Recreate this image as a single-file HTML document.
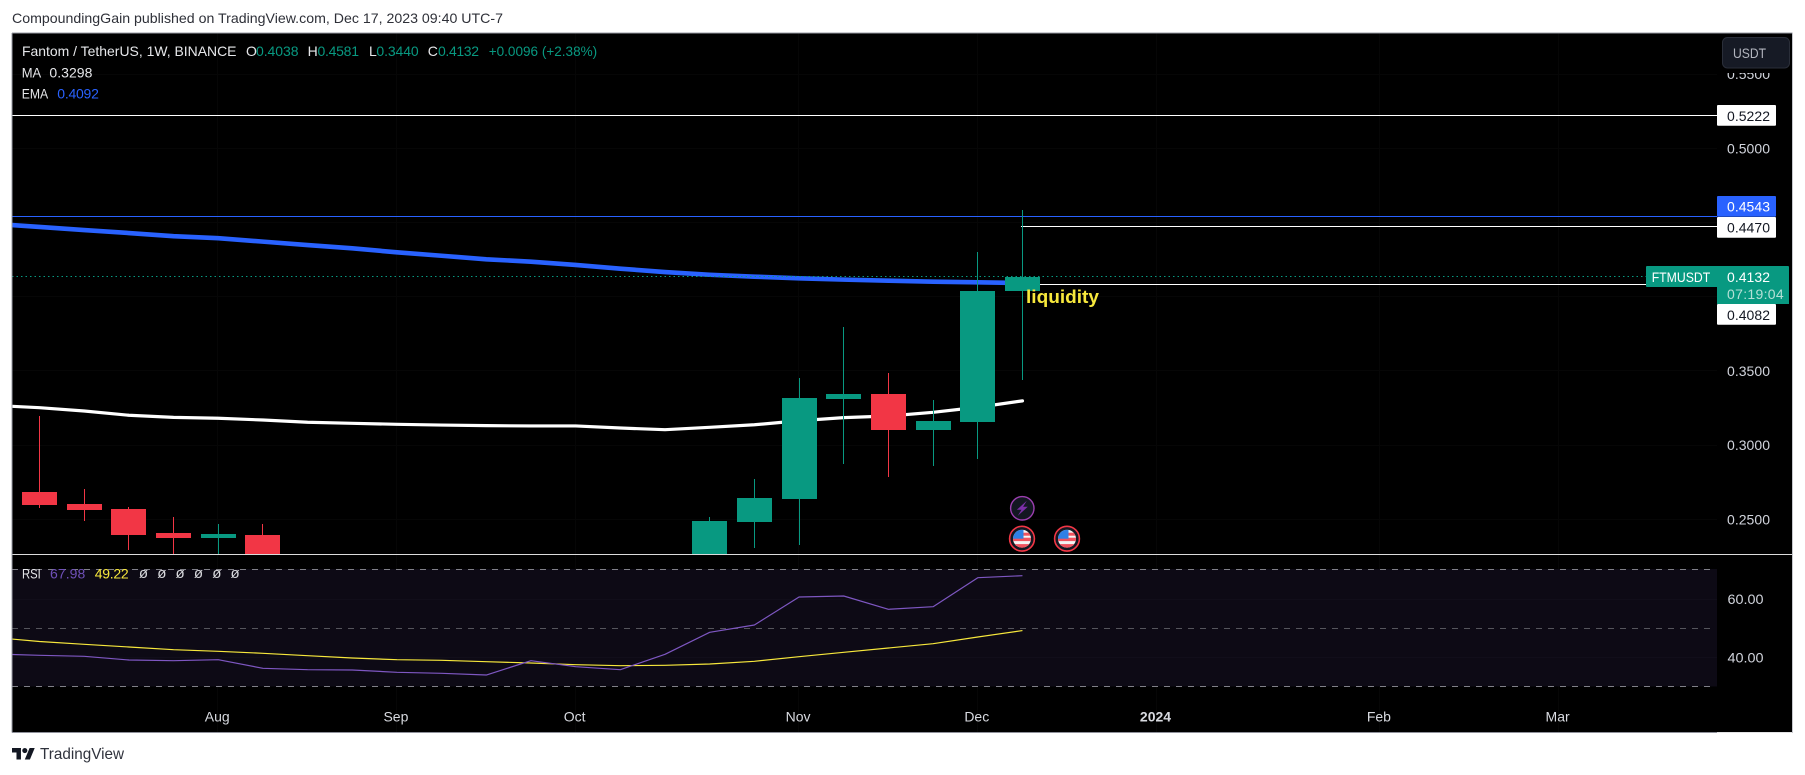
<!DOCTYPE html>
<html lang="en">
<head>
<meta charset="utf-8">
<title>FTMUSDT weekly chart</title>
<style>
  html, body { margin: 0; padding: 0; background: #ffffff; }
  body { width: 1805px; height: 775px; overflow: hidden; }
  svg { display: block; }
  text { font-family: "Liberation Sans", sans-serif; }
</style>
</head>
<body>
<svg id="chart" xmlns="http://www.w3.org/2000/svg" width="1805" height="775" viewBox="0 0 1805 775">
  <defs>
    <clipPath id="clip-main"><rect x="12" y="33" width="1705" height="521"/></clipPath>
    <clipPath id="clip-rsi"><rect x="12" y="555" width="1705" height="177"/></clipPath>
    <clipPath id="clip-flag-a"><circle cx="0" cy="0" r="9"/></clipPath>
  </defs>

  <text x="12" y="18" font-size="14" fill="#2e3038" dominant-baseline="central" textLength="491" lengthAdjust="spacingAndGlyphs">CompoundingGain published on TradingView.com, Dec 17, 2023 09:40 UTC-7</text>

  <rect x="12" y="33" width="1780" height="699" fill="#000000"/>

  <g id="main-grid"></g>
  <rect x="12" y="569" width="1705" height="117.5" fill="#0d0a15"/>
  <g id="rsi-grid"></g>

  <g clip-path="url(#clip-main)">
    <g id="hlines"></g>
    <path id="ma-line" fill="none" stroke="#ffffff" stroke-width="3.2" stroke-linejoin="round" stroke-linecap="round"/>
    <path id="ema-line" fill="none" stroke="#2962ff" stroke-width="4.6" stroke-linejoin="round" stroke-linecap="butt"/>
    <line id="price-line" x1="12" x2="1646" stroke="#089981" stroke-width="1" stroke-dasharray="1.5 3"/>
    <g id="candles"></g>
  </g>

  <text x="1026" y="297" font-size="18" font-weight="700" fill="#f7e83c" dominant-baseline="central" textLength="73" lengthAdjust="spacingAndGlyphs">liquidity</text>

  <g transform="translate(1022.3 508.3)">
    <circle r="11.7" fill="#131722" stroke="#9c3fb0" stroke-width="1.4"/>
    <path d="M4.5 -7.5 L-5.5 1.5 L-0.8 1.5 L-4.5 7.5 L5.5 -1.5 L0.8 -1.5 Z" fill="#7b2fa8"/>
  </g>
  <g transform="translate(1022 538.7)">
    <circle r="12.4" fill="#131722" stroke="#f23645" stroke-width="1.6"/>
    <g clip-path="url(#clip-flag-a)">
      <rect x="-9" y="-9" width="18" height="18" fill="#f4f4f4"/>
      <rect x="-9" y="-1" width="18" height="3.4" fill="#f0535f"/>
      <rect x="-9" y="5.4" width="18" height="4" fill="#f0535f"/>
      <rect x="1" y="-6" width="8" height="3" fill="#f0535f"/>
      <rect x="-9" y="-9" width="10.5" height="9" fill="#2f80e6"/>
    </g>
  </g>
  <g transform="translate(1067 538.7)">
    <circle r="12.4" fill="#131722" stroke="#f23645" stroke-width="1.6"/>
    <g clip-path="url(#clip-flag-a)">
      <rect x="-9" y="-9" width="18" height="18" fill="#f4f4f4"/>
      <rect x="-9" y="-1" width="18" height="3.4" fill="#f0535f"/>
      <rect x="-9" y="5.4" width="18" height="4" fill="#f0535f"/>
      <rect x="1" y="-6" width="8" height="3" fill="#f0535f"/>
      <rect x="-9" y="-9" width="10.5" height="9" fill="#2f80e6"/>
    </g>
  </g>

  <g clip-path="url(#clip-rsi)">
    <g id="rsi-levels"></g>
    <path id="rsi-ma-line" fill="none" stroke="#f7e83c" stroke-width="1.2" stroke-linejoin="round"/>
    <path id="rsi-line" fill="none" stroke="#7e57c2" stroke-width="1.2" stroke-linejoin="round"/>
  </g>

  <rect x="12" y="554" width="1780" height="1" fill="#dcdcdc"/>

  <g id="price-axis"></g>
  <g id="rsi-axis"></g>
  <g id="time-axis"></g>
  <g id="price-tags"></g>
  <g id="last-tag"></g>

  <rect x="1718" y="34" width="73" height="39" fill="#000000"/>
  <g>
    <rect x="1722.5" y="37.5" width="67" height="30.5" rx="5" fill="#161a25" stroke="#2a2e39" stroke-width="1"/>
    <text x="1733" y="53" font-size="14" fill="#b2b5be" dominant-baseline="central" textLength="33" lengthAdjust="spacingAndGlyphs">USDT</text>
  </g>

  <g font-size="14" dominant-baseline="central">
    <text x="22" y="51" fill="#e6e7ea" dominant-baseline="central" textLength="214.5" lengthAdjust="spacingAndGlyphs">Fantom / TetherUS, 1W, BINANCE</text>
    <text x="246" y="51" fill="#e6e7ea" dominant-baseline="central">O</text>
    <text x="256" y="51" fill="#089981" dominant-baseline="central" textLength="42.5">0.4038</text>
    <text x="307.6" y="51" fill="#e6e7ea" dominant-baseline="central">H</text>
    <text x="317.5" y="51" fill="#089981" dominant-baseline="central" textLength="41.5">0.4581</text>
    <text x="369" y="51" fill="#e6e7ea" dominant-baseline="central">L</text>
    <text x="376.4" y="51" fill="#089981" dominant-baseline="central" textLength="42.3">0.3440</text>
    <text x="427.8" y="51" fill="#e6e7ea" dominant-baseline="central">C</text>
    <text x="438" y="51" fill="#089981" dominant-baseline="central" textLength="41">0.4132</text>
    <text x="488.7" y="51" fill="#089981" dominant-baseline="central" textLength="108.5" lengthAdjust="spacingAndGlyphs">+0.0096 (+2.38%)</text>
    <text x="21.7" y="72.3" fill="#e6e7ea" dominant-baseline="central" textLength="19.5" lengthAdjust="spacingAndGlyphs">MA</text>
    <text x="49.4" y="72.3" fill="#e6e7ea" dominant-baseline="central" textLength="43">0.3298</text>
    <text x="21.7" y="93.3" fill="#e6e7ea" dominant-baseline="central" textLength="26.5" lengthAdjust="spacingAndGlyphs">EMA</text>
    <text x="57.3" y="93.3" fill="#2962ff" dominant-baseline="central" textLength="41.6">0.4092</text>
  </g>

  <g font-size="14">
    <text x="22" y="573.3" fill="#e6e7ea" dominant-baseline="central" textLength="18.7" lengthAdjust="spacingAndGlyphs">RSI</text>
    <text x="50" y="573.3" fill="#6f50b8" dominant-baseline="central" textLength="35.3">67.98</text>
    <text x="94.7" y="573.3" fill="#f7e83c" dominant-baseline="central" textLength="34">49.22</text>
    <text x="138.9" y="573.3" font-size="15" fill="#d8d9dd" dominant-baseline="central">ø</text>
    <text x="157.2" y="573.3" font-size="15" fill="#d8d9dd" dominant-baseline="central">ø</text>
    <text x="175.5" y="573.3" font-size="15" fill="#d8d9dd" dominant-baseline="central">ø</text>
    <text x="193.9" y="573.3" font-size="15" fill="#d8d9dd" dominant-baseline="central">ø</text>
    <text x="212.2" y="573.3" font-size="15" fill="#d8d9dd" dominant-baseline="central">ø</text>
    <text x="230.5" y="573.3" font-size="15" fill="#d8d9dd" dominant-baseline="central">ø</text>
  </g>

  <rect x="11.5" y="33" width="1" height="699.5" fill="#9a9ca6"/>
  <rect x="12" y="32.5" width="1780.5" height="1" fill="#9a9ca6"/>
  <rect x="12" y="732" width="1705" height="1" fill="#8f919b"/>
  <rect x="1717" y="732" width="75.5" height="1" fill="#e2e2e4"/>
  <rect x="1792" y="33" width="1" height="700" fill="#c6c7cc"/>

  <g transform="translate(12 745.4) scale(0.64)" fill="#131722">
    <path d="M14 22H7V11H0V4h14v18z"/>
    <path d="M28 22h-8l7.5-18h8L28 22z"/>
    <circle cx="20" cy="8" r="4"/>
  </g>
  <text x="40" y="754.5" font-size="16" fill="#2f323c" dominant-baseline="central" textLength="84" lengthAdjust="spacingAndGlyphs">TradingView</text>
</svg>

<script>
// Weekly candles (bar 0 is the first fully visible bar)
const weekLabels = ['Jul 3','Jul 10','Jul 17','Jul 24','Jul 31','Aug 7','Aug 14','Aug 21','Aug 28','Sep 4','Sep 11','Sep 18','Sep 25','Oct 2','Oct 9','Oct 16','Oct 23','Oct 30','Nov 6','Nov 13','Nov 20','Nov 27','Dec 4'];
const opens  = [0.2684,0.2603,0.2569,0.2408,0.2374,0.2394,0.2120,0.2050,0.1990,0.1960,0.1930,0.1980,0.1990,0.2040,0.2010,0.2130,0.2482,0.2637,0.3311,0.3344,0.3102,0.3156,0.4038];
const highs  = [0.3199,0.2704,0.2583,0.2516,0.2468,0.2468,0.2180,0.2110,0.2060,0.2020,0.2050,0.2070,0.2120,0.2120,0.2200,0.2516,0.2772,0.3452,0.3796,0.3486,0.3304,0.4301,0.4581];
const lows   = [0.2578,0.2489,0.2293,0.2240,0.2200,0.2100,0.2000,0.1950,0.1900,0.1880,0.1860,0.1900,0.1920,0.1950,0.1960,0.2100,0.2307,0.2327,0.2873,0.2785,0.2859,0.2906,0.3440];
const closes = [0.2596,0.2563,0.2394,0.2374,0.2401,0.2150,0.2050,0.1990,0.1960,0.1930,0.1980,0.1990,0.2040,0.2010,0.2130,0.2489,0.2644,0.3317,0.3344,0.3102,0.3162,0.4038,0.4132];

// Indicator series: first value belongs to the bar just left of the frame
const emaValues = [0.4491,0.4470,0.4449,0.4429,0.4408,0.4394,0.4371,0.4348,0.4326,0.4299,0.4276,0.4252,0.4236,0.4214,0.4189,0.4166,0.4148,0.4135,0.4124,0.4115,0.4108,0.4101,0.4097,0.4092];
const maValues  = [0.3267,0.3252,0.3230,0.3201,0.3187,0.3181,0.3169,0.3154,0.3147,0.3140,0.3135,0.3131,0.3129,0.3129,0.3115,0.3104,0.3120,0.3137,0.3164,0.3185,0.3196,0.3221,0.3255,0.3298];
const rsiValues   = [41.21,40.77,40.43,39.16,38.92,39.26,36.32,35.85,35.74,34.96,34.62,34.03,38.92,36.87,35.85,41.11,48.63,51.13,60.70,61.04,56.50,57.38,67.30,67.98];
const rsiMaValues = [46.85,45.49,44.53,43.61,42.68,42.14,41.45,40.63,39.85,39.26,39.06,38.58,38.14,37.56,37.21,37.35,37.79,38.72,40.29,41.79,43.26,44.74,47.03,49.22];

// Axes and levels
const priceTicks = [0.55,0.50,0.45,0.40,0.35,0.30,0.25];
const rsiTicks = [60,40];
const rsiLevels = [70,50,30];
const timeLabels = ['Aug','Sep','Oct','Nov','Dec','2024','Feb','Mar'];
const timeLabelBars = [4,8,12,17,21,25,30,34];
const levelValues = [0.5222,0.4543,0.4470,0.4082];
const levelStartBars = [null,null,22,22];
const lastPrice = 0.4132;
const lastPriceCountdown = '07:19:04';
const symbolName = 'FTMUSDT';

const xBar = i => 39.5 + 44.68 * i;
const yPrice = p => 148.3 + (0.5 - p) * 1484;
const yRsi = v => 628.3 + (50 - v) * 2.925;
const NS = 'http://www.w3.org/2000/svg';

function mk(tag, parent, attrs, txt) {
  const el = document.createElementNS(NS, tag);
  for (const k in attrs) el.setAttribute(k, attrs[k]);
  if (txt !== undefined) el.textContent = txt;
  parent.appendChild(el);
  return el;
}
const $ = id => document.getElementById(id);
const crisp = y => Math.round(y - 0.5) + 0.5;
const linePath = (vals, yFn) => vals.map((v, k) => (k ? 'L' : 'M') + xBar(k - 1).toFixed(2) + ' ' + yFn(v).toFixed(2)).join(' ');

// Grid
priceTicks.forEach(t => {
  const el = mk('line', $('main-grid'), { x1: 12, x2: 1717, y1: crisp(yPrice(t)), y2: crisp(yPrice(t)), stroke: '#060606' });
  
  
});
timeLabelBars.forEach(b => {
  const el = mk('line', $('main-grid'), { x1: Math.round(xBar(b)) - 0.5, x2: Math.round(xBar(b)) - 0.5, y1: 33, y2: 732, stroke: '#060606' });
  
  
});
rsiTicks.forEach(t => {
  const el = mk('line', $('rsi-grid'), { x1: 12, x2: 1717, y1: crisp(yRsi(t)), y2: crisp(yRsi(t)), stroke: '#110e1a' });
  
  
});

// Horizontal levels
levelValues.forEach((v, k) => {
  const start = levelStartBars[k] === null ? 12 : xBar(levelStartBars[k]) - 1.5;
  const end = k === 3 ? 1646 : 1717;
  const el = mk('line', $('hlines'), { x1: start, x2: end, y1: crisp(yPrice(v)), y2: crisp(yPrice(v)), stroke: k === 1 ? '#2962ff' : '#ffffff', 'stroke-width': 1 });
  
  
});

// Moving averages
$('ma-line').setAttribute('d', linePath(maValues, yPrice));
$('ema-line').setAttribute('d', linePath(emaValues, yPrice));
const priceLineY = crisp(yPrice(lastPrice)) - 1;
$('price-line').setAttribute('y1', priceLineY);
$('price-line').setAttribute('y2', priceLineY);

// Candles
weekLabels.forEach((w, i) => {
  const up = closes[i] >= opens[i];
  const colour = up ? '#089981' : '#f23645';
  const left = Math.round(xBar(i) - 17.5);
  const top = Math.round(yPrice(Math.max(opens[i], closes[i])));
  const bottom = Math.round(yPrice(Math.min(opens[i], closes[i])));
  const hi = Math.round(yPrice(highs[i]));
  const lo = Math.round(yPrice(lows[i]));
  const g = mk('g', $('candles'), {});
  
  
  const wick = mk('rect', g, { x: left + 17, y: hi, width: 1, height: lo - hi, fill: colour });
  
  
  const body = mk('rect', g, { x: left, y: top, width: 35, height: Math.max(1, bottom - top), fill: colour });
  
  
});

// RSI pane
rsiLevels.forEach((lv, k) => {
  const el = mk('line', $('rsi-levels'), { x1: 12, x2: 1711, y1: crisp(yRsi(lv)), y2: crisp(yRsi(lv)), stroke: k === 1 ? '#55555c' : '#808088', 'stroke-dasharray': '6 6' });
  
  
});
$('rsi-line').setAttribute('d', linePath(rsiValues, yRsi));
$('rsi-ma-line').setAttribute('d', linePath(rsiMaValues, yRsi));

// Axis labels
priceTicks.forEach(t => {
  const el = mk('text', $('price-axis'), { x: 1727, y: yPrice(t), 'font-size': 14, fill: '#d1d4dc', 'dominant-baseline': 'central', textLength: 43 }, t.toFixed(4));
  
  
});
rsiTicks.forEach(t => {
  const el = mk('text', $('rsi-axis'), { x: 1727.5, y: yRsi(t), 'font-size': 14, fill: '#d1d4dc', 'dominant-baseline': 'central', textLength: 36, lengthAdjust: 'spacingAndGlyphs' }, t.toFixed(2));
  
  
});
timeLabels.forEach((t, k) => {
  const el = mk('text', $('time-axis'), { x: xBar(timeLabelBars[k]) - 1, y: 716.3, 'font-size': 14, 'font-weight': t === '2024' ? 700 : 400, fill: '#d8dae0', 'text-anchor': 'middle', 'dominant-baseline': 'central' }, t);
  
  
});

// Level tags beside the price axis
levelValues.forEach((v, k) => {
  const shift = k === 1 ? -10 : (k === 3 ? 30 : 0);
  const cy = yPrice(v) + shift;
  const blue = k === 1;
  const box = mk('rect', $('price-tags'), { x: 1717, y: Math.round(cy - 10.3), width: 59, height: 20.7, rx: 1, fill: blue ? '#2962ff' : '#ffffff' });
  
  
  const label = mk('text', $('price-tags'), { x: 1727, y: cy + 0.5, 'font-size': 14, fill: blue ? '#ffffff' : '#131722', 'dominant-baseline': 'central', textLength: 43 }, v.toFixed(4));
  
  
});

// Last price tag
const lastY = yPrice(lastPrice);
const tagTop = Math.round(lastY - 11);
const tagShape = mk('path', $('last-tag'), { d: 'M1647 ' + tagTop + ' H1788 a1 1 0 0 1 1 1 V' + (tagTop + 38) + ' H1717 V' + (tagTop + 21) + ' H1647 a1 1 0 0 1 -1 -1 V' + (tagTop + 1) + ' a1 1 0 0 1 1 -1 Z', fill: '#089981' });


const tagSym = mk('text', $('last-tag'), { x: 1651.7, y: lastY, 'font-size': 14, fill: '#ffffff', 'dominant-baseline': 'central', textLength: 58.6, lengthAdjust: 'spacingAndGlyphs' }, symbolName);


const tagVal = mk('text', $('last-tag'), { x: 1727, y: lastY, 'font-size': 14, fill: '#ffffff', 'dominant-baseline': 'central', textLength: 43 }, lastPrice.toFixed(4));


const tagTime = mk('text', $('last-tag'), { x: 1727, y: lastY + 17, 'font-size': 14, fill: '#b5e0d6', 'dominant-baseline': 'central', textLength: 56.7 }, lastPriceCountdown);


</script>
</body>
</html>
